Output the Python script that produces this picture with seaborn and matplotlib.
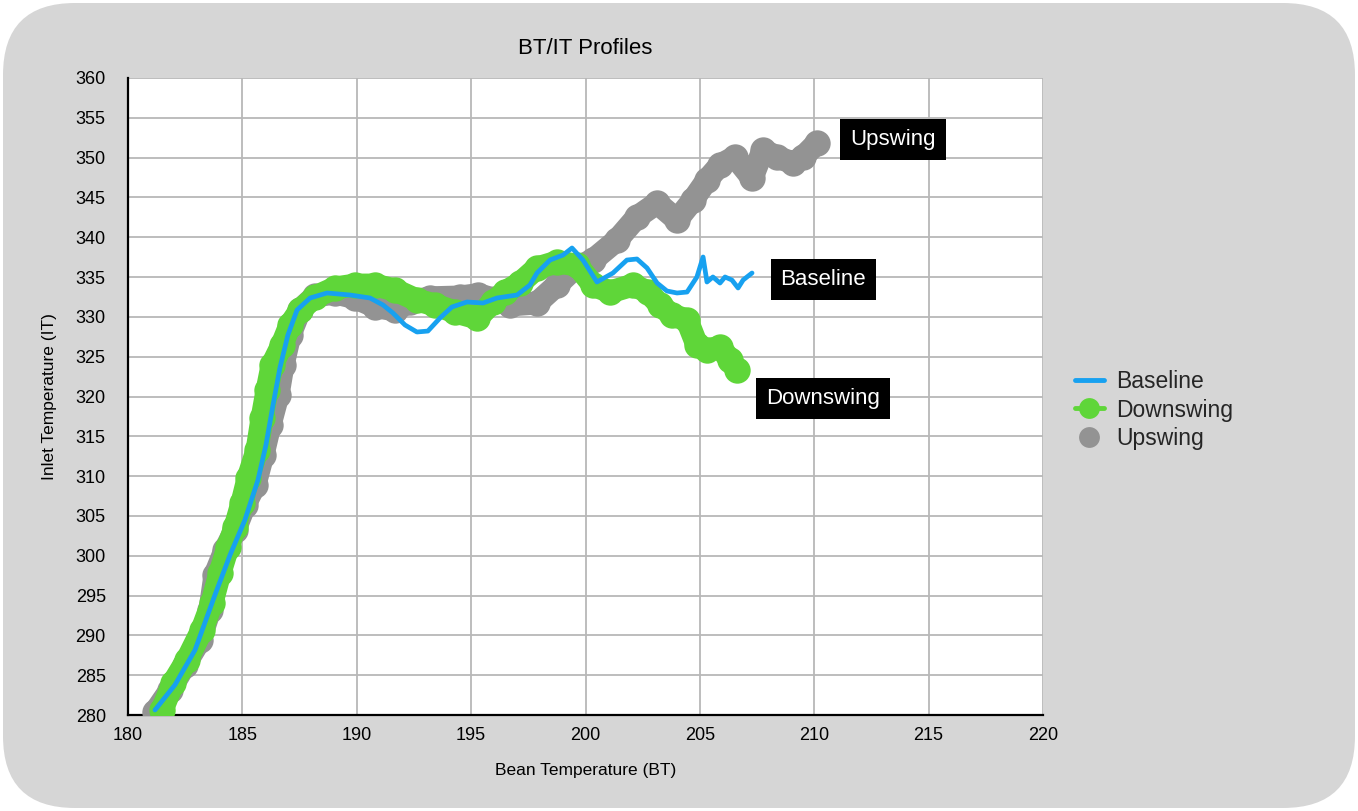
import numpy as np
import pandas as pd
import seaborn as sns
import matplotlib
matplotlib.use("Agg")
import matplotlib.pyplot as plt
from matplotlib.lines import Line2D
from matplotlib.patches import FancyBboxPatch

# ---------------- data ----------------
baseline_bt = [181.18, 182.05, 182.93, 183.80, 184.46, 185.11, 185.68, 186.03, 186.34, 186.64,
               186.99, 187.39, 187.96, 188.70, 189.70, 190.58, 191.15, 191.58, 192.11, 192.63,
               193.11, 193.64, 194.16, 194.82, 195.52, 196.13, 197.01, 197.57, 197.88, 198.45,
               199.02, 199.41, 199.89, 200.50, 201.20, 201.81, 202.25, 202.69, 203.13, 203.56,
               204.00, 204.44, 204.87, 205.14, 205.31, 205.57, 205.88, 206.10, 206.40, 206.67,
               206.89, 207.28]
baseline_it = [280.63, 283.77, 288.16, 295.07, 300.09, 304.49, 309.51, 313.91, 318.93, 323.58,
               327.72, 330.86, 332.37, 333.00, 332.75, 332.37, 331.49, 330.49, 328.98, 328.10,
               328.22, 329.86, 331.24, 331.87, 331.74, 332.37, 332.75, 334.00, 335.51, 337.14,
               337.77, 338.65, 337.14, 334.38, 335.51, 337.14, 337.27, 336.14, 334.25, 333.25,
               333.00, 333.12, 335.01, 337.52, 334.38, 335.01, 334.25, 335.01, 334.63, 333.63,
               334.63, 335.51]

down_bt = [181.49, 181.97, 182.58, 183.23, 183.67, 184.02, 184.37, 184.68, 184.98, 185.25,
           185.64, 185.86, 186.08, 186.30, 186.73, 187.08, 187.52, 188.17, 189.05, 189.92,
           190.80, 191.67, 192.63, 193.42, 194.30, 195.26, 195.96, 196.48, 197.14, 197.88,
           198.75, 199.63, 200.33, 201.07, 202.08, 202.73, 203.26, 203.78, 204.44, 204.87,
           205.31, 205.88, 206.32, 206.62]
down_it = [280.63, 284.02, 286.91, 290.67, 294.07, 297.83, 301.10, 303.61, 306.62, 309.76,
           313.28, 317.30, 320.82, 323.96, 326.47, 328.98, 330.86, 332.50, 333.63, 334.00,
           334.00, 333.37, 332.12, 331.49, 330.61, 329.86, 331.87, 333.12, 334.25, 336.14,
           336.89, 336.51, 334.00, 333.12, 334.00, 333.12, 331.49, 330.23, 329.61, 326.47,
           325.84, 326.22, 324.58, 323.33]

up_bt = [181.18, 181.84, 182.49, 183.15, 183.58, 183.80, 184.24, 184.68, 185.11, 185.55,
         185.90, 186.21, 186.56, 186.78, 187.08, 187.52, 188.17, 189.05, 189.92, 190.80,
         191.67, 192.33, 193.20, 194.51, 195.30, 196.04, 196.70, 197.88, 198.75, 199.54,
         200.33, 201.38, 202.25, 203.13, 204.00, 204.70, 205.31, 205.88, 206.54, 207.28,
         207.76, 208.37, 209.07, 209.51, 210.12]
up_it = [280.38, 283.14, 286.28, 289.42, 293.19, 297.58, 300.72, 303.23, 306.37, 308.89,
         312.65, 316.42, 320.19, 323.96, 327.72, 330.86, 332.60, 333.00, 332.40, 331.30,
         330.86, 331.90, 332.40, 332.50, 332.80, 332.20, 331.49, 331.74, 334.00, 336.14,
         337.14, 339.65, 342.54, 344.30, 342.17, 344.68, 347.19, 349.07, 350.08, 347.44,
         350.96, 350.08, 349.33, 350.08, 351.84]

series_names = ["Baseline", "Downswing", "Upswing"]
x_ticks = [180, 185, 190, 195, 200, 205, 210, 215, 220]
y_ticks = list(range(280, 361, 5))

# label positions (data coords)
label_pos = {"Upswing": (213.45, 352.3), "Baseline": (210.40, 334.7), "Downswing": (210.38, 319.8)}

# ---------------- style ----------------
sns.set_theme(style="white")
plt.rcParams['font.family'] = ['Liberation Sans', 'DejaVu Sans']

BLUE = "#17a1f0"
GREEN = "#5fd639"
GRAY = "#939393"
BG = "#d6d6d6"

fig = plt.figure(figsize=(13.58, 8.11), dpi=100)
fig.patch.set_facecolor("white")
bgpatch = FancyBboxPatch((0.03, 0.03), 13.52, 8.05,
                         boxstyle="round,pad=0,rounding_size=0.72",
                         transform=fig.dpi_scale_trans, facecolor=BG, edgecolor="none",
                         zorder=-10)
fig.patches.append(bgpatch)

ax = fig.add_axes([128/1358, 1-715/811, (1043-128)/1358, (715-78)/811])
ax.set_facecolor("white")

df_base = pd.DataFrame({"BT": baseline_bt, "IT": baseline_it})
df_down = pd.DataFrame({"BT": down_bt, "IT": down_it})
df_up = pd.DataFrame({"BT": up_bt, "IT": up_it})

common = dict(sort=False, estimator=None, legend=False, ax=ax)
sns.lineplot(data=df_up, x="BT", y="IT", color=GRAY, marker="o", **common)
sns.lineplot(data=df_down, x="BT", y="IT", color=GREEN, marker="o", **common)
sns.lineplot(data=df_base, x="BT", y="IT", color=BLUE, **common)

# enforce line/marker styles
line_up, line_down, line_base = ax.lines[0], ax.lines[1], ax.lines[2]
for ln, z in ((line_up, 3), (line_down, 4)):
    ln.set_linewidth(16.5)
    ln.set_markersize(19)
    ln.set_markeredgewidth(0)
    ln.set_solid_capstyle("round")
    ln.set_solid_joinstyle("round")
    ln.set_zorder(z)
line_base.set_linewidth(3.4)
line_base.set_solid_joinstyle("round")
line_base.set_solid_capstyle("round")
line_base.set_zorder(5)

ax.set_xlim(180, 220)
ax.set_ylim(280, 360)
ax.set_xticks(x_ticks)
ax.set_yticks(y_ticks)
ax.grid(True, color="#b8b8b8", linewidth=1.3)
ax.set_axisbelow(True)
for s in ["top", "right"]:
    ax.spines[s].set_visible(False)
for s in ["left", "bottom"]:
    ax.spines[s].set_color("black")
    ax.spines[s].set_linewidth(1.6)
    ax.spines[s].set_zorder(2)
ax.tick_params(axis="y", length=0, pad=16, labelsize=13, colors="black")
ax.tick_params(axis="x", length=0, pad=9, labelsize=13, colors="black")

ax.set_xlabel("Bean Temperature (BT)", fontsize=12.5, labelpad=13, color="black")
ax.set_ylabel("Inlet Temperature (IT)", fontsize=12.5, labelpad=13, color="black")
ax.set_title("BT/IT Profiles", fontsize=16, pad=17, color="black")

for name in series_names:
    x, y = label_pos[name]
    ax.text(x, y, name, color="white", fontsize=16, ha="center", va="center",
            zorder=10, clip_on=False,
            bbox=dict(boxstyle="square,pad=0.45", facecolor="black", edgecolor="none"))

handles = [
    Line2D([0], [0], color=BLUE, linewidth=3.5),
    Line2D([0], [0], color=GREEN, linewidth=3.5, marker="o", markersize=15,
           markeredgewidth=0),
    Line2D([0], [0], color=GRAY, linewidth=0, marker="o", markersize=15,
           markeredgewidth=0),
]
leg = fig.legend(handles, series_names, loc="center left",
                 bbox_to_anchor=(1066/1358, 1-410/811), frameon=False,
                 fontsize=16.5, handlelength=1.25, handletextpad=0.55,
                 labelspacing=0.22, borderaxespad=0)

fig.savefig("out.png", dpi=100, facecolor=fig.get_facecolor())
